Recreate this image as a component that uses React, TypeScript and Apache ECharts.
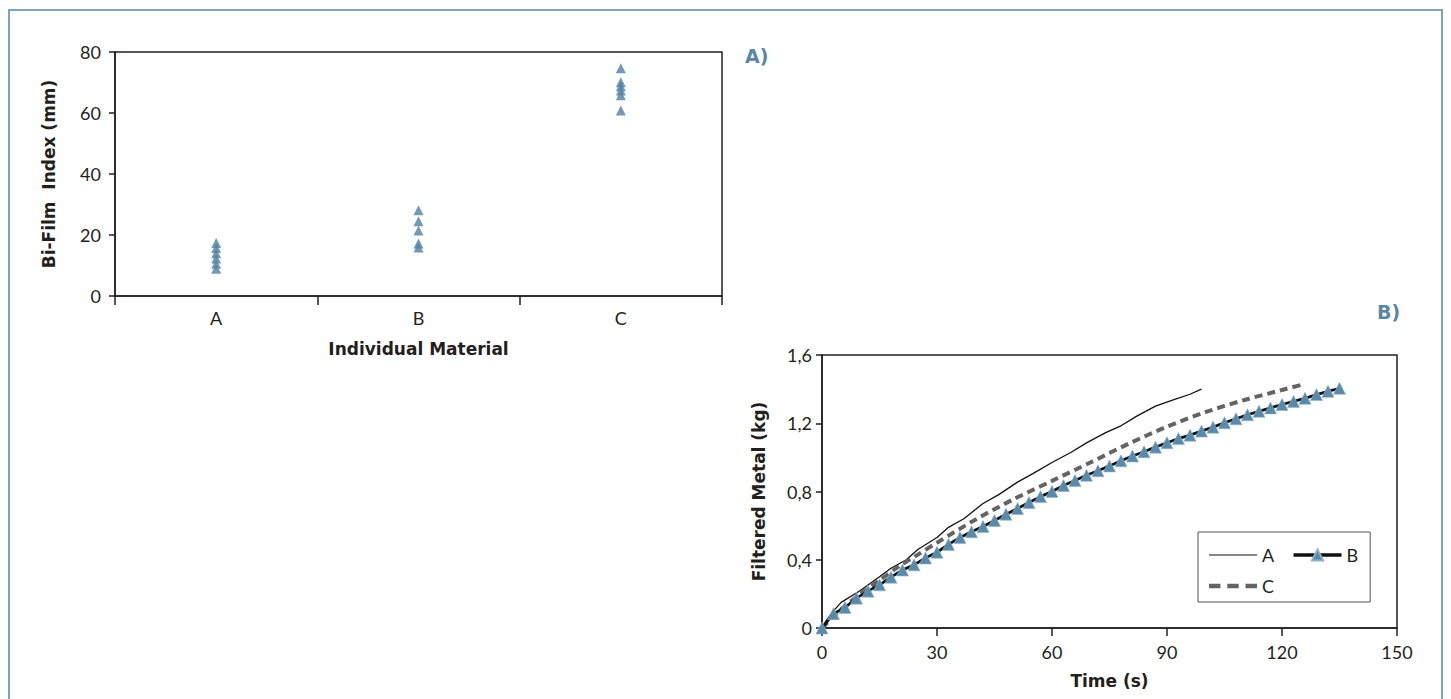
import React, { useEffect, useRef } from 'react';
import * as echarts from 'echarts';

// Panel A: Bi-Film index per material
const materials = ['A', 'B', 'C'];
const biFilmA = [17.4, 15.7, 14.0, 12.3, 10.6, 8.9];
const biFilmB = [28.1, 24.5, 21.5, 17.2, 15.9];
const biFilmC = [74.7, 70.1, 68.8, 67.4, 65.8, 60.8];

// Panel B: filtered metal over time
const timeA = [0, 1, 3, 5, 10, 15, 18, 22, 25, 30, 33, 37, 42, 46, 51, 55, 60, 65, 69, 74, 78, 82, 87, 92, 96, 99];
const metalA = [0, 0.04, 0.1, 0.15, 0.22, 0.3, 0.35, 0.4, 0.46, 0.53, 0.59, 0.64, 0.73, 0.78, 0.855, 0.905, 0.97, 1.03, 1.085, 1.145, 1.185, 1.24, 1.3, 1.34, 1.37, 1.4];

const timeB = [0, 3, 6, 9, 12, 15, 18, 21, 24, 27, 30, 33, 36, 39, 42, 45, 48, 51, 54, 57, 60, 63, 66, 69, 72, 75, 78, 81, 84, 87, 90, 93, 96, 99, 102, 105, 108, 111, 114, 117, 120, 123, 126, 129, 132, 135];
const metalB = [0, 0.084, 0.12, 0.175, 0.216, 0.253, 0.298, 0.34, 0.37, 0.41, 0.444, 0.49, 0.53, 0.564, 0.595, 0.63, 0.667, 0.7, 0.735, 0.77, 0.8, 0.835, 0.864, 0.895, 0.922, 0.95, 0.98, 1.008, 1.033, 1.06, 1.086, 1.11, 1.13, 1.154, 1.177, 1.203, 1.226, 1.25, 1.27, 1.29, 1.31, 1.328, 1.346, 1.368, 1.387, 1.405];

const timeC = [0, 5, 10, 15, 20, 25, 30, 40, 50, 60, 70, 80, 90, 100, 110, 120, 126];
const metalC = [0, 0.11, 0.2, 0.28, 0.36, 0.43, 0.5, 0.635, 0.755, 0.862, 0.97, 1.08, 1.18, 1.265, 1.335, 1.395, 1.43];

const FONT = 'Lato, "Open Sans", sans-serif';
const NAME_FONT = '"DejaVu Sans", Lato, sans-serif';
const INK = '#231f20';
const MARKER = '#4f81a3';
const PANEL_LABEL = '#5b86a6';

// Legend glyphs: a plain thin stroke for A and three dashes for C
const ICON_SOLID = 'path://M0,0H48V1.2H0Z';
const ICON_DASHED = 'path://M0,0H10V4H0Z M16,0H26V4H16Z M32,0H42V4H32Z';

const pairs = (xs: number[], ys: number[]) => xs.map((x, i) => [x, ys[i]]);
const catPoints = (cat: string, ys: number[]) => ys.map((y) => [cat, y]);

const commaFmt = (v: number) => (v === 0 ? '0' : v.toFixed(1).replace('.', ','));

export default function App() {
  const ref = useRef<HTMLDivElement>(null);

  useEffect(() => {
    if (!ref.current) return;
    const chart = echarts.init(ref.current, undefined, { renderer: 'svg' });

    const axisLine = { show: true, lineStyle: { color: INK, width: 1.5 } };
    const labelStyle = { color: INK, fontSize: 18, fontFamily: FONT };
    const nameStyle = { color: INK, fontSize: 17, fontWeight: 'bold' as const, fontFamily: NAME_FONT };

    chart.setOption({
      animation: false,
      backgroundColor: '#ffffff',
      textStyle: { fontFamily: FONT },
      grid: [
        { left: 115, top: 52, width: 607, height: 244, show: true, borderColor: INK, borderWidth: 1.5 },
        { left: 822, top: 355, width: 575, height: 273, show: true, borderColor: INK, borderWidth: 1.5 },
      ],
      xAxis: [
        {
          gridIndex: 0,
          type: 'category',
          data: materials,
          boundaryGap: true,
          axisLine,
          axisTick: { show: true, length: 9, lineStyle: { color: INK, width: 1.5 } },
          axisLabel: { ...labelStyle, margin: 13 },
          splitLine: { show: false },
          name: 'Individual Material',
          nameLocation: 'middle',
          nameGap: 44,
          nameTextStyle: nameStyle,
        },
        {
          gridIndex: 1,
          type: 'value',
          min: 0,
          max: 150,
          interval: 30,
          axisLine,
          axisTick: { show: true, length: 8, lineStyle: { color: INK, width: 1.5 } },
          axisLabel: { ...labelStyle, margin: 15 },
          splitLine: { show: false },
          name: 'Time (s)',
          nameLocation: 'middle',
          nameGap: 44,
          nameTextStyle: nameStyle,
        },
      ],
      yAxis: [
        {
          gridIndex: 0,
          type: 'value',
          min: 0,
          max: 80,
          interval: 20,
          axisLine,
          axisTick: { show: true, length: 6, lineStyle: { color: INK, width: 1.5 } },
          axisLabel: { ...labelStyle, margin: 14 },
          splitLine: { show: false },
          name: 'Bi-Film  Index (mm)',
          nameLocation: 'middle',
          nameGap: 58,
          nameTextStyle: nameStyle,
        },
        {
          gridIndex: 1,
          type: 'value',
          min: 0,
          max: 1.6,
          interval: 0.4,
          axisLine,
          axisTick: { show: true, length: 6, lineStyle: { color: INK, width: 1.5 } },
          axisLabel: { ...labelStyle, margin: 10, formatter: commaFmt },
          splitLine: { show: false },
          name: 'Filtered Metal (kg)',
          nameLocation: 'middle',
          nameGap: 55,
          nameTextStyle: nameStyle,
        },
      ],
      legend: {
        left: 1198,
        top: 532,
        width: 150,
        padding: [14, 12, 7, 11],
        itemWidth: 48,
        itemHeight: 14,
        itemGap: 13,
        borderColor: '#555555',
        borderWidth: 1,
        selectedMode: false,
        data: [
          { name: 'A', icon: ICON_SOLID },
          { name: 'B', lineStyle: { width: 3.5 } },
          { name: 'C', icon: ICON_DASHED },
        ],
        formatter: (name: string) => (name === 'A' ? 'A ' : name),
        textStyle: { color: INK, fontSize: 18, fontFamily: FONT },
      },
      series: [
        {
          name: 'Bi-Film',
          type: 'scatter',
          xAxisIndex: 0,
          yAxisIndex: 0,
          symbol: 'triangle',
          symbolSize: 10,
          itemStyle: { color: MARKER },
          data: [
            ...catPoints(materials[0], biFilmA),
            ...catPoints(materials[1], biFilmB),
            ...catPoints(materials[2], biFilmC),
          ],
        },
        {
          name: 'A',
          type: 'line',
          xAxisIndex: 1,
          yAxisIndex: 1,
          showSymbol: false,
          symbol: 'none',
          lineStyle: { color: '#111111', width: 1.3 },
          itemStyle: { color: '#111111' },
          data: pairs(timeA, metalA),
        },
        {
          name: 'C',
          type: 'line',
          xAxisIndex: 1,
          yAxisIndex: 1,
          showSymbol: false,
          symbol: 'none',
          smooth: 0.3,
          lineStyle: { color: '#646464', width: 4, type: [8, 5] },
          itemStyle: { color: '#646464' },
          data: pairs(timeC, metalC),
        },
        {
          name: 'B',
          type: 'line',
          xAxisIndex: 1,
          yAxisIndex: 1,
          symbol: 'triangle',
          symbolSize: 12,
          showAllSymbol: true,
          lineStyle: { color: '#111111', width: 2.8 },
          itemStyle: { color: '#5a8aa9', borderColor: '#8fb1c7', borderWidth: 0.6 },
          data: pairs(timeB, metalB),
        },
      ],
      graphic: [
        {
          type: 'rect',
          silent: true,
          shape: { x: 9, y: 10, width: 1433, height: 720 },
          style: { fill: 'none', stroke: '#7fa3bd', lineWidth: 2 },
        },
        {
          type: 'text',
          left: 745,
          top: 46,
          style: { text: 'A)', fill: PANEL_LABEL, font: `bold 19px ${NAME_FONT}` },
        },
        {
          type: 'text',
          left: 1377,
          top: 302,
          style: { text: 'B)', fill: PANEL_LABEL, font: `bold 19px ${NAME_FONT}` },
        },
      ],
    });

    return () => chart.dispose();
  }, []);

  return (
    <div
      ref={ref}
      style={{ position: 'fixed', left: 0, top: 0, width: 1451, height: 699 }}
    />
  );
}
